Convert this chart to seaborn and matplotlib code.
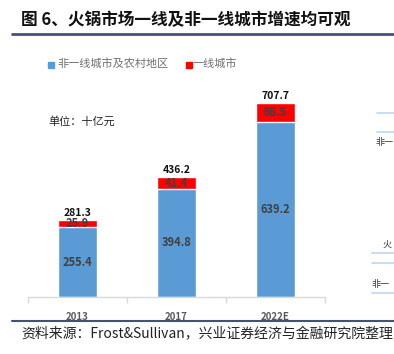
import matplotlib
matplotlib.use("Agg")
import matplotlib.pyplot as plt
import seaborn as sns
import pandas as pd
from matplotlib.lines import Line2D
from matplotlib.patches import Rectangle

years = ["2013", "2017", "2022E"]
non_first_tier = [255.4, 394.8, 639.2]
first_tier = [25.9, 41.4, 68.5]
totals = [281.3, 436.2, 707.7]
legend_labels = ["非一线城市及农村地区", "一线城市"]
title = "图 6、火锅市场一线及非一线城市增速均可观"
unit = "单位：十亿元"
source = "资料来源：Frost&Sullivan，兴业证券经济与金融研究院整理"

BLUE = "#5B9BD5"
RED = "#FF0000"
NAVY = "#44527A"

sns.set_theme(style="white")
plt.rcParams['font.family'] = ['Noto Sans CJK SC', 'DejaVu Sans']

W, H = 394, 354
fig = plt.figure(figsize=(W / 100, H / 100), dpi=100)

def fx(x):
    return x / W

def fy(y):
    return 1 - y / H

ax_left, ax_right, ax_bottom, ax_top = 28, 325, 297, 50
ax = fig.add_axes([fx(ax_left), fy(ax_bottom), (ax_right - ax_left) / W, (ax_bottom - ax_top) / H])

df = pd.DataFrame({"year": years, "non": non_first_tier, "first": first_tier, "total": totals})
sns.barplot(data=df, x="year", y="total", color=RED, saturation=1, width=0.404, ax=ax)
sns.barplot(data=df, x="year", y="non", color=BLUE, saturation=1, width=0.404, ax=ax)

scale = 0.274
ax.set_ylim(0, (ax_bottom - ax_top) / scale)
ax.set_xlim(-0.5, 2.5)
ax.set_xlabel("")
ax.set_ylabel("")
ax.set_yticks([])
for s in ["top", "right", "left"]:
    ax.spines[s].set_visible(False)
ax.spines["bottom"].set_color("#D9D9D9")
ax.spines["bottom"].set_linewidth(1)
ax.set_xticks(range(len(years)), years, fontweight="bold", fontsize=7, color="#595959")
ax.tick_params(axis="x", which="major", length=0, pad=11)
ax.set_xticks([-0.5, 0.5, 1.5, 2.5], minor=True)
ax.tick_params(axis="x", which="minor", length=4, color="#D9D9D9", width=1, bottom=True)

for i in range(3):
    ax.text(i, non_first_tier[i] / 2, f"{non_first_tier[i]}", ha="center", va="center",
            fontsize=8, fontweight="bold", color="#404040")
    ax.text(i, non_first_tier[i] + first_tier[i] / 2, f"{first_tier[i]}", ha="center", va="center",
            fontsize=8, fontweight="bold", color="#404040")
    ax.text(i, totals[i] + 8, f"{totals[i]}", ha="center", va="bottom",
            fontsize=7.5, fontweight="bold", color="#111111")

# title
fig.text(fx(21), fy(20), title, fontsize=12, fontweight="bold", color="#111111", va="center", ha="left")
fig.add_artist(Line2D([fx(12), fx(394)], [fy(34), fy(34)], color=NAVY, lw=2))

# legend
fig.add_artist(Rectangle((fx(48), fy(68)), 6 / W, 6 / H, color=BLUE))
fig.text(fx(57), fy(64), legend_labels[0], fontsize=8, color="#707070", va="center")
fig.add_artist(Rectangle((fx(186), fy(68)), 6 / W, 6 / H, color=RED))
fig.text(fx(193), fy(64), legend_labels[1], fontsize=8, color="#707070", va="center")

fig.text(fx(48), fy(121), unit, fontsize=8, color="#222222", va="center")

# bottom line and source
fig.add_artist(Line2D([fx(12), fx(394)], [fy(321), fy(321)], color=NAVY, lw=1.5))
fig.text(fx(21), fy(334), source, fontsize=10, color="#222222", va="center")

# fragments of neighbouring content on the right edge
for y, x0 in [(113, 377), (132, 377), (253, 372), (263, 372), (293, 372)]:
    fig.add_artist(Line2D([fx(x0), fx(394)], [fy(y), fy(y)], color="#BDD7EE", lw=1.2))
fig.text(fx(376), fy(143), "非一", fontsize=6.5, color="#333333", va="center")
fig.text(fx(383), fy(245), "火", fontsize=6.5, color="#333333", va="center")
fig.text(fx(372), fy(285), "非一", fontsize=6.5, color="#333333", va="center")

fig.savefig("out.png", dpi=100)
